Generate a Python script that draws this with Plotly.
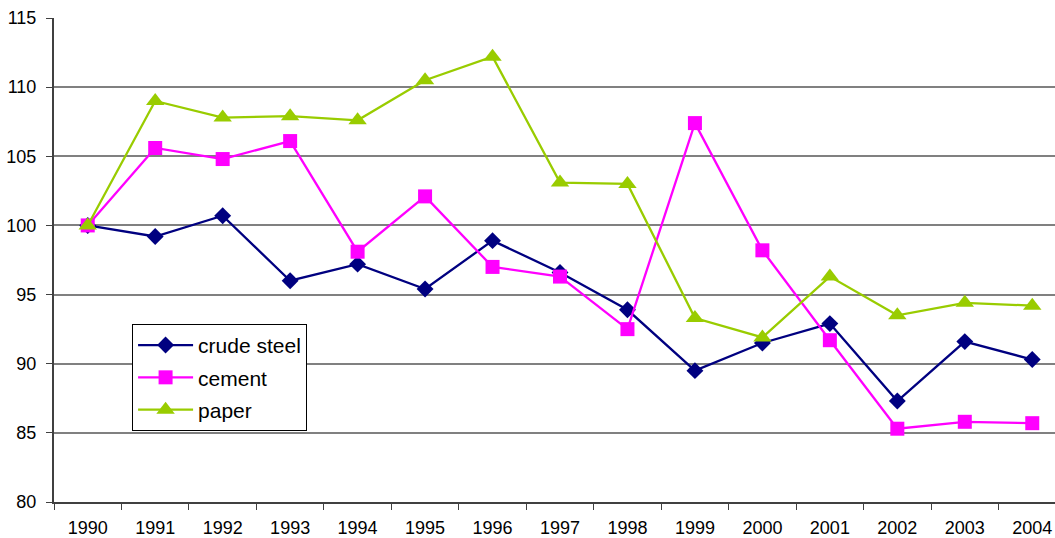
import plotly.graph_objects as go

# Index values, 1990 = 100
years = ["1990", "1991", "1992", "1993", "1994", "1995", "1996", "1997",
         "1998", "1999", "2000", "2001", "2002", "2003", "2004"]
crude_steel = [100.0, 99.2, 100.7, 96.0, 97.2, 95.4, 98.9, 96.6,
               93.9, 89.5, 91.5, 92.9, 87.3, 91.6, 90.3]
cement = [100.0, 105.6, 104.8, 106.1, 98.1, 102.1, 97.0, 96.3,
          92.5, 107.4, 98.2, 91.7, 85.3, 85.8, 85.7]
paper = [100.0, 109.0, 107.8, 107.9, 107.6, 110.5, 112.2, 103.1,
         103.0, 93.3, 91.9, 96.3, 93.5, 94.4, 94.2]

series = [
    ("crude steel", crude_steel, "#000080", "diamond", 13),
    ("cement", cement, "#FF00FF", "square", 14),
    ("paper", paper, "#99CC00", "triangle-up", 16),
]

fig = go.Figure()
for i, (name, vals, color, symbol, size) in enumerate(series):
    fig.add_trace(go.Scatter(
        x=years, y=vals, name=name, mode="lines+markers",
        line=dict(color=color, width=2.3),
        marker=dict(symbol=symbol, size=size, color=color,
                    line=dict(width=0)),
        legendgroup=f"g{i}",
    ))

fig.update_layout(
    width=1055, height=538,
    margin=dict(l=54, r=0, t=18, b=36),
    paper_bgcolor="white", plot_bgcolor="white",
    font=dict(family="Liberation Sans, Arial, sans-serif", size=18, color="black"),
    showlegend=True,
    legend=dict(
        x=0.078, y=0.368, xanchor="left", yanchor="top",
        bgcolor="white", bordercolor="black", borderwidth=1,
        font=dict(size=21, color="black"),
        itemwidth=55, tracegroupgap=2,
    ),
)

fig.update_xaxes(
    type="category", range=[-0.5, 14.337],
    tickson="boundaries", ticks="outside", ticklen=6, tickcolor="#404040",
    ticklabelstandoff=8,
    showline=True, linecolor="#404040", linewidth=2,
    showgrid=False, zeroline=False,
)
fig.update_yaxes(
    range=[80, 115], dtick=5, tick0=80,
    ticks="outside", ticklen=6, tickcolor="#404040",
    ticklabelstandoff=6,
    showline=True, linecolor="#404040", linewidth=2,
    showgrid=True, gridcolor="#808080", gridwidth=1.5,
    zeroline=False,
)

fig.write_html("out.html")
